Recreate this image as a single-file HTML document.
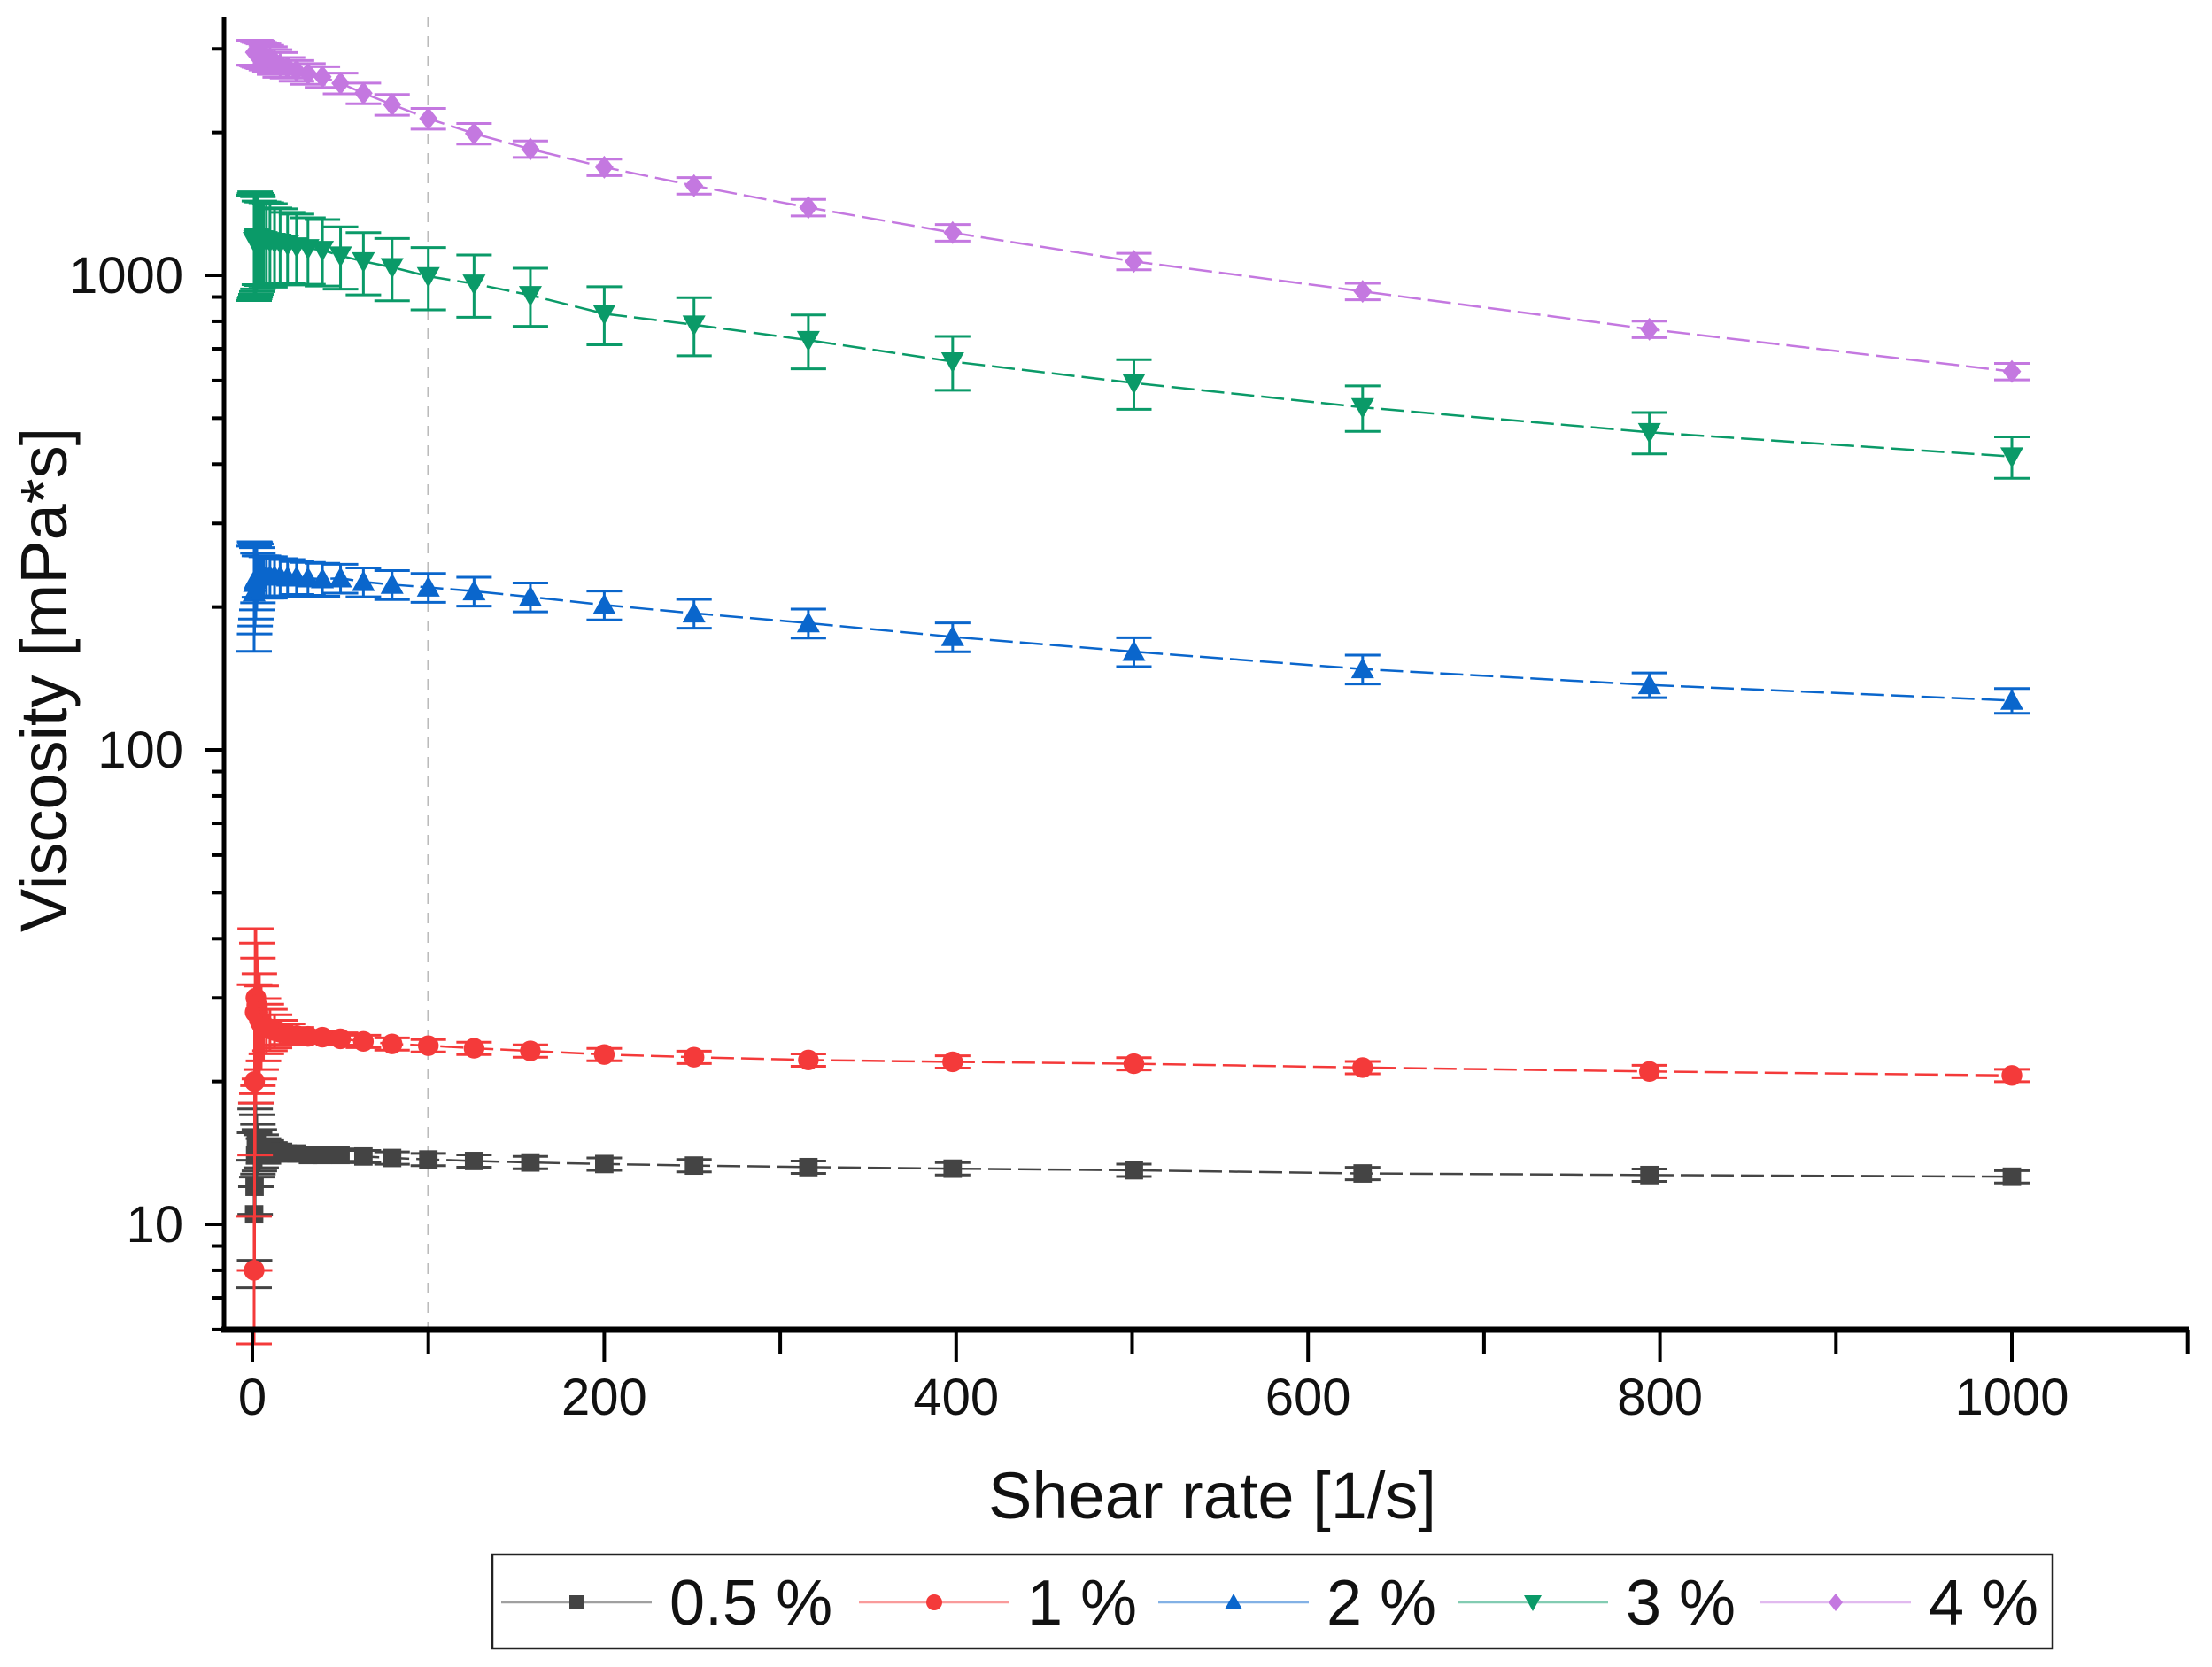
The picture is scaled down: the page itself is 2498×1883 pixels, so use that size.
<!DOCTYPE html>
<html><head><meta charset="utf-8">
<style>
html,body{margin:0;padding:0;background:#fff;}
svg{display:block;font-family:"Liberation Sans",sans-serif;}
</style></head>
<body>
<svg id="chart" width="2498" height="1883" viewBox="0 0 2498 1883" xmlns="http://www.w3.org/2000/svg">
<g id="grid"></g>
<g id="series"></g>
<g id="axes"></g>
<text transform="translate(75,768) rotate(-90)" text-anchor="middle" font-size="74" fill="#111">Viscosity [mPa*s]</text>
<text x="1369" y="1715" text-anchor="middle" font-size="74" fill="#111">Shear rate [1/s]</text>
<g id="legend"></g>
</svg>
<script>
const shearRates = [1,1.26,1.58,2,2.51,3.16,3.98,5.01,6.31,7.94,10,12.6,15.8,20,25.1,31.6,39.8,50.1,63.1,79.4,100,126,158,200,251,316,398,501,631,794,1000];
const seriesNames = ["0.5 %","1 %","2 %","3 %","4 %"];
const visc05 = [10.5,12,14,15,14.8,14.5,14.4,14.3,14.3,14.3,14.3,14.2,14.2,14.1,14.1,14.0,14.0,14.0,13.9,13.8,13.7,13.6,13.5,13.4,13.3,13.2,13.1,13.0,12.8,12.7,12.6];
const visc1 = [8,20,28,30,29,28,27,26.5,26,26,25.8,25.6,25.4,25.2,25,24.9,24.8,24.6,24.3,24,23.8,23.5,23.2,22.8,22.5,22.2,22,21.8,21.4,21,20.6];
const visc2 = [215,225,228,230,232,232,233,233,233,232,232,232,232,231,231,230,229,230,226,223,220,216,210,202,194,185,173,161,148,137,127];
const visc3 = [1180,1190,1200,1200,1200,1200,1195,1190,1190,1185,1180,1175,1170,1160,1150,1140,1130,1100,1070,1040,995,960,908,830,787,730,658,593,527,467,415];
const visc4 = [2950,2950,2950,2950,2940,2930,2920,2910,2900,2880,2860,2820,2780,2740,2700,2660,2620,2540,2420,2290,2140,1990,1845,1690,1545,1390,1230,1070,925,770,627];
const relErr05 = [0.3,0.3,0.25,0.2,0.15,0.12,0.1,0.08,0.06,0.05,0.04,0.04,0.03,0.03,0.03,0.03,0.03,0.03,0.03,0.03,0.03,0.03,0.03,0.03,0.03,0.03,0.03,0.03,0.03,0.03,0.03];
const relErr1 = [0.3,0.6,0.5,0.4,0.35,0.3,0.25,0.2,0.15,0.12,0.1,0.08,0.06,0.05,0.04,0.03,0.03,0.03,0.03,0.03,0.03,0.03,0.03,0.03,0.03,0.03,0.03,0.03,0.03,0.03,0.03];
const relErr2 = [0.25,0.22,0.2,0.18,0.15,0.12,0.1,0.1,0.1,0.1,0.1,0.09,0.09,0.09,0.08,0.08,0.08,0.07,0.07,0.07,0.07,0.07,0.07,0.07,0.07,0.07,0.07,0.07,0.07,0.06,0.06];
const relErr3 = [0.25,0.25,0.25,0.24,0.23,0.22,0.2,0.2,0.2,0.2,0.2,0.18,0.18,0.17,0.17,0.16,0.16,0.15,0.15,0.15,0.15,0.15,0.14,0.14,0.14,0.13,0.13,0.12,0.11,0.1,0.1];
const relErr4 = [0.06,0.06,0.06,0.06,0.06,0.06,0.06,0.06,0.06,0.06,0.06,0.06,0.06,0.05,0.05,0.05,0.05,0.05,0.05,0.05,0.05,0.05,0.04,0.04,0.04,0.04,0.04,0.04,0.04,0.04,0.04];
const xTickLabels = ["0","200","400","600","800","1000"];
const yTickLabels = ["10","100","1000"];

const NS="http://www.w3.org/2000/svg";
const X0=285, XK=1.987, Y1000=311, DEC=536;
function sx(v){return X0+v*XK;}
function sy(v){return Y1000-(Math.log10(v)-3)*DEC;}
function mk(tag,attrs,parent){const e=document.createElementNS(NS,tag);for(const k in attrs)e.setAttribute(k,attrs[k]);parent.appendChild(e);return e;}

const grid=document.getElementById('grid'), axes=document.getElementById('axes'), ser=document.getElementById('series'), leg=document.getElementById('legend');
const ref=mk('line',{x1:sx(100),x2:sx(100),y1:19,y2:1502,stroke:'#bbb','stroke-width':2.5,'stroke-dasharray':'12 10'},grid);



const yAx=mk('line',{x1:253,x2:253,y1:19,y2:1505,stroke:'#000','stroke-width':5},axes);


const xAx=mk('line',{x1:250,x2:2472,y1:1502,y2:1502,stroke:'#000','stroke-width':7},axes);


for(let v=0;v<=1100;v+=100){
  const major=v%200===0;
  const t=mk('line',{x1:sx(v),x2:sx(v),y1:1502,y2:1502+(major?36:28),stroke:'#000','stroke-width':4},axes);
  
  
}
xTickLabels.forEach(l=>{
  const t=mk('text',{x:sx(+l),y:1598,'text-anchor':'middle','font-size':58,fill:'#111'},axes);
  t.textContent=l;
  
  
});
for(let d=1;d<=1000;d*=10){for(let m=1;m<10;m++){const v=d*m;const y=sy(v);if(y<19||y>1502)continue;
  const major=m===1;
  const t=mk('line',{x1:253,x2:253-(major?22:14),y1:y,y2:y,stroke:'#000','stroke-width':4},axes);
  
  
}}
yTickLabels.forEach(l=>{
  const t=mk('text',{x:207,y:sy(+l)+20,'text-anchor':'end','font-size':58,fill:'#111'},axes);
  t.textContent=l;
  
  
});

const colors=['#444444','#f43a3a','#0a66cc','#0a9a68','#c478e0'];
const shapes=['square','circle','up','down','diamond'];
const vals=[visc05,visc1,visc2,visc3,visc4];
const errs=[relErr05,relErr1,relErr2,relErr3,relErr4];
function marker(shape,x,y,r,c,parent){
  let e;
  if(shape==='square')e=mk('rect',{x:x-r*0.8,y:y-r*0.8,width:r*1.6,height:r*1.6,fill:c},parent);
  else if(shape==='circle')e=mk('circle',{cx:x,cy:y,r:r*0.9,fill:c},parent);
  else if(shape==='up')e=mk('polygon',{points:`${x},${y-r} ${x-r},${y+r*0.8} ${x+r},${y+r*0.8}`,fill:c},parent);
  else if(shape==='down')e=mk('polygon',{points:`${x},${y+r} ${x-r},${y-r*0.8} ${x+r},${y-r*0.8}`,fill:c},parent);
  else e=mk('polygon',{points:`${x},${y-r} ${x+r*0.8},${y} ${x},${y+r} ${x-r*0.8},${y}`,fill:c},parent);
  return e;
}
vals.forEach((arr,si)=>{
  const g=mk('g',{},ser);
  
  
  const pts=arr.map((v,i)=>sx(shearRates[i])+','+sy(v)).join(' ');
  const ln=mk('polyline',{points:pts,fill:'none',stroke:colors[si],'stroke-width':2.5,'stroke-dasharray':'26 8'},g);
  
  
  arr.forEach((v,i)=>{
    const x=sx(shearRates[i]),e=errs[si][i];
    const y1=sy(v*(1+e)),y2=sy(v*(1-e));
    const eb=mk('path',{d:`M${x},${y1}V${y2}M${x-20},${y1}H${x+20}M${x-20},${y2}H${x+20}`,stroke:colors[si],'stroke-width':3,fill:'none'},g);
    
    
    const m=marker(shapes[si],x,sy(v),13,colors[si],g);
    
    
  });
});

const box=mk('rect',{x:556,y:1756,width:1762,height:106,fill:'#fff',stroke:'#222','stroke-width':2.5},leg);


const lx=[566,970,1308,1646,1988];
seriesNames.forEach((n,i)=>{
  const g=mk('g',{},leg);
  
  
  mk('line',{x1:lx[i],x2:lx[i]+170,y1:1810,y2:1810,stroke:colors[i],'stroke-width':2.5,opacity:0.5},g);
  marker(shapes[i],lx[i]+85,1810,10,colors[i],g);
  const t=mk('text',{x:lx[i]+190,y:1835,'font-size':72,fill:'#111'},g);
  t.textContent=n;
});
</script>
</body></html>
